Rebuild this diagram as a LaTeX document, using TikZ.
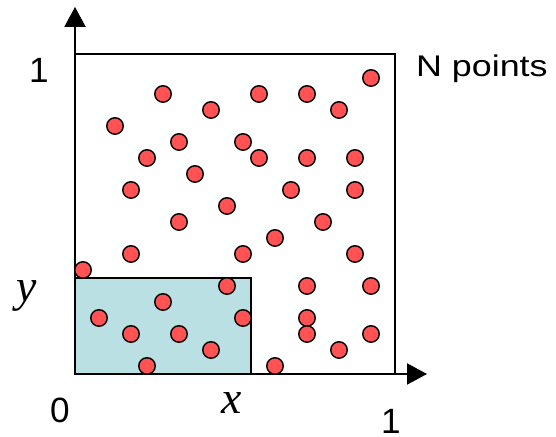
\documentclass[tikz,border=0pt]{standalone}
\usepackage{fontspec}
\setmainfont{Liberation Sans}
\newfontfamily\tmsfont{Liberation Serif}
\usetikzlibrary{arrows.meta, positioning}

\definecolor{dotred}{RGB}{255,82,82}
\definecolor{areablue}{RGB}{186,224,228}

\begin{document}
\begin{tikzpicture}[
  x=0.32cm, y=0.32cm,
  dot/.style={draw, circle, fill=dotred, line width=0.8pt, minimum size=0.33cm, inner sep=0pt},
  num/.style={anchor=base, inner sep=0pt, font=\fontsize{20}{24}\selectfont},
  varlbl/.style={anchor=base, inner sep=0pt, font=\tmsfont\itshape\fontsize{26}{30}\selectfont},
  axis/.style={line width=1.2pt, -{Triangle[length=0.4cm, width=0.42cm]}}
]
  \useasboundingbox (-4.6875,-3.9375) rectangle (30.0625,23.375);

  % unit square and the region below (x,y)
  \coordinate (o) at (0,0);
  \coordinate (xy) at (11,6);
  \coordinate (tr) at (20,20);
  \fill[areablue] (o) rectangle (xy);
  \draw[line width=1pt] (o) rectangle (xy);
  \draw[line width=1pt] (o) rectangle (tr);

  % axes
  \coordinate (xend) at (22,0);
  \coordinate (yend) at (0,22.94);
  \draw[axis] (o) -- (xend);
  \draw[axis] (o) -- (yend);

  % random points
  \foreach \px/\py [count=\i] in {18.5/18.5, 5.5/17.5, 11.5/17.5, 14.5/17.5, 8.5/16.5,
      16.5/16.5, 2.5/15.5, 6.5/14.5, 10.5/14.5, 4.5/13.5, 11.5/13.5, 14.5/13.5,
      17.5/13.5, 7.5/12.5, 3.5/11.5, 13.5/11.5, 17.5/11.5, 9.5/10.5, 6.5/9.5,
      15.5/9.5, 12.5/8.5, 3.5/7.5, 10.5/7.5, 17.5/7.5, 0.5/6.5, 9.5/5.5, 14.5/5.5,
      18.5/5.5, 5.5/4.5, 1.5/3.5, 10.5/3.5, 14.5/3.5, 3.5/2.5, 6.5/2.5, 14.5/2.5,
      18.5/2.5, 8.5/1.5, 16.5/1.5, 4.5/0.5, 12.5/0.5}
    \node (p\i) [dot] at (\px,\py) {};

  % labels
  \node (one-y) [num] at (-2.25,18.19) {1};
  \node (zero) [num] at (-0.94,-3.06) {0};
  \node (one-x) [num] at (19.75,-3.72) {1};
  \node (npts) [anchor=base west, inner sep=0pt, font=\fontsize{17}{20}\selectfont] at (21.3,18.58) {\scalebox{1.2}[1]{N points}};
  \node (xlbl) [varlbl] at (9.81,-2.44) {x};
  \node (ylbl) [varlbl] at (-3.0,4.5) {y};
\end{tikzpicture}
\end{document}
